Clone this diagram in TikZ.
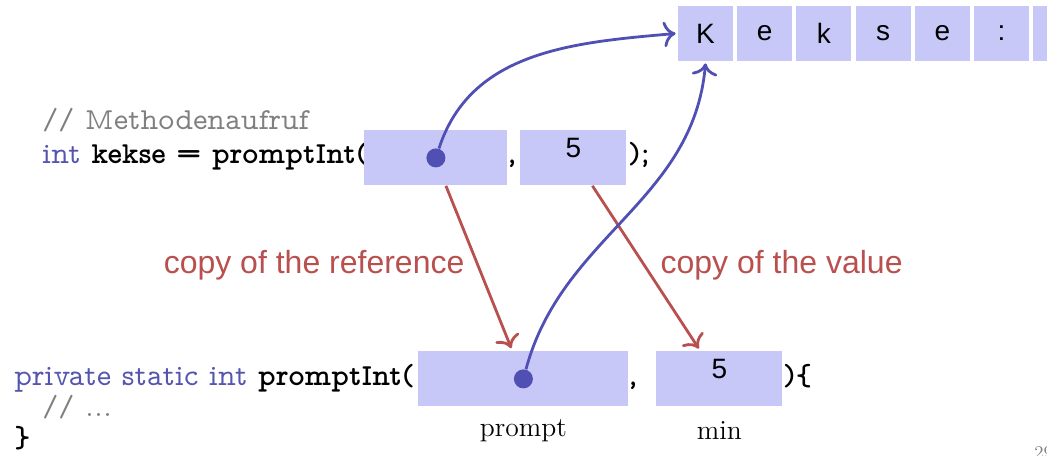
\documentclass[tikz,border=0pt]{standalone}
\usepackage{fontspec}
\newfontfamily\labelfont{Liberation Sans}
\usetikzlibrary{positioning, arrows.meta}

\definecolor{cellfill}{RGB}{200,200,248}
\definecolor{refblue}{RGB}{80,80,180}
\definecolor{copyred}{RGB}{185,80,80}
\definecolor{kwblue}{RGB}{85,85,175}
\definecolor{commentgray}{RGB}{128,128,128}

\newcommand{\kw}[1]{{\color{kwblue}\mdseries #1}}

\tikzset{
  cell/.style={fill=cellfill, minimum width=27.5pt, minimum height=27.5pt, inner sep=0pt,
    font=\labelfont\fontsize{14}{16}\selectfont},
  argbox/.style={fill=cellfill, minimum height=27.5pt, inner sep=0pt, anchor=north west,
    text height=10pt, text depth=10pt, font=\labelfont\fontsize{14}{16}\selectfont},
  code/.style={anchor=base west, inner sep=0pt, font=\fontfamily{lmvtt}\bfseries\fontsize{15.3}{18}\selectfont},
  comment/.style={code, text=commentgray, font=\fontfamily{lmvtt}\mdseries\fontsize{15.3}{18}\selectfont},
  refdot/.style={circle, fill=refblue, inner sep=0pt, minimum size=9.5pt},
  refarrow/.style={refblue, line width=1.4pt, -{To[scale=1.3]}},
  copyarrow/.style={copyred, line width=1.4pt, -{To[scale=1.3]}, shorten >=1.5pt},
  copylabel/.style={copyred, inner sep=0pt, font=\labelfont\fontsize{16}{18}\selectfont},
  varname/.style={inner sep=0pt, font=\fontsize{13.8}{16}\selectfont}
}

\begin{document}
\begin{tikzpicture}[x=0.5pt, y=-0.5pt]
\useasboundingbox (0,0) rectangle (1047,455);

% Draw string cells
\foreach \ch [count=\i] in {K,e,k,s,e,:,{}} {
    \node[cell] (c\i) at ({705.5+(\i-1)*59.2}, 33.5) {\ch};
}

% Draw code of the call
\node[comment] (callcmt) at (42,129) {// Methodenaufruf};
\node[code] (call) at (42,163) {\kw{int} kekse = promptInt(};
\node[code, anchor=base] (callsep) at (512,163) {,};
\node[code] (callend) at (628,163) {);};

% Draw code of the method
\node[code] (decl) at (14,385) {\kw{private static int} promptInt(};
\node[code, anchor=base] (declsep) at (633,385) {,};
\node[code] (declend) at (783,385) {)\{};
\node[comment] (body) at (42,416) {// ...};
\node[code] (declclose) at (14,447) {\}};

% Draw argument and parameter boxes
\node[argbox, minimum width=71.5pt] (argref) at (364,130) {};
\node[argbox, minimum width=53pt] (argval) at (520,130) {5};
\node[argbox, minimum width=105pt] (parref) at (418,351) {};
\node[argbox, minimum width=63pt] (parval) at (656,351) {5};

% Parameter names
\node[varname, below=6pt of parref] (promptname) {prompt};
\node[varname] (minname) at (parval |- promptname) {min};

% Draw copies
\draw[copyarrow] ([xshift=5pt]argref.south) -- ([xshift=-5.5pt]parref.north)
    node[copylabel, pos=0.48, left=6pt] (reflabel) {copy of the reference};
\draw[copyarrow] ([xshift=9.5pt]argval.south) -- ([xshift=-9.5pt]parval.north)
    node[copylabel, pos=0.48, right=7.5pt] (vallabel) {copy of the value};

% Draw references
\node[refdot] (dotref) at (argref.center) {};
\node[refdot] (dotpar) at (parref.center) {};
\draw[refarrow] (dotref) to[out=72, in=185] ([xshift=-1pt]c1.west);
\draw[refarrow] (dotpar) to[out=75, in=-95] ([yshift=-1pt]c1.south);

% Slide number
\node[anchor=base west, inner sep=0pt, text=commentgray, font=\fontsize{9}{10}\selectfont] (pagenum) at (1034,458) {29};
\end{tikzpicture}
\end{document}
